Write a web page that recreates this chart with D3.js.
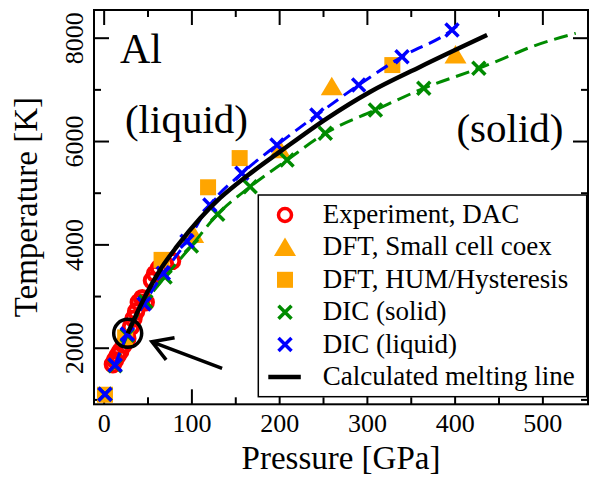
<!DOCTYPE html>
<html>
<head>
<meta charset="utf-8">
<script src="https://cdn.jsdelivr.net/npm/d3@7"></script>
<style>
body { margin: 0; background: #fff; }
svg { display: block; font-family: "Liberation Serif", "Times New Roman", serif; }
</style>
</head>
<body>
<div id="chart"></div>
<script>
// Values, each point is [pressure (GPa), temperature (K)]
var expDAC = [[10.5,1680],[13,1760],[16,1850],[19,1930],[23,2060],[27,2180],[31,2400],[34,2560],
	[37,2700],[40,2880],[44,2960],[48,2880],[55,3300],[58.5,3430],[63,3540],[70,3610],[78,3680]];
var dftCoex = [[102,4190],[201,5830],[260,7052],[401,7665]];
var dftHum = [[1.5,1090],[24.5,2200],[66,3700],[119,5105],[155,5670],[329,7470]];
var dicSolid = [[1.5,1100],[13,1650],[27,2240],[48,2890],[70,3370],[100,3970],[130,4585],
	[167,5116],[209,5633],[252.6,6150],[309.7,6601],[364.8,7021],[427.6,7408]];
var dicLiquid = [[1.5,1100],[13,1666],[27,2266],[46,2846],[68,3440],[95,4060],[121,4760],
	[157.5,5376],[197.5,5923],[243,6504],[290.6,7085],[340,7632],[397,8149]];

// fitted curves
var dicSolidFit = [[13,1650],[27,2240],[48,2890],[70,3370],[100,3970],[130,4585],[167,5116],
	[209,5633],[252.6,6150],[309.7,6601],[364.8,7021],[427.6,7408],[456,7600],[487,7820],[538,8085]];
var dicLiquidFit = [[13,1666],[27,2266],[46,2846],[68,3440],[95,4060],[121,4760],[157.5,5376],
	[197.5,5923],[243,6504],[290.6,7085],[340,7632],[397,8149],[403,8230]];
var meltLine = [[27.4,2279],[45.2,2924],[64.3,3504],[83.3,3955],[110,4505],[132.8,4898],
	[163.2,5323],[201,5794],[254.6,6440],[304,6955],[361,7439],[437,8052]];

// annotations, in data units
var highlight = [27.4, 2279];
var arrowTail = [135, 1600];
var arrowTip = [55, 2115];
var notes = [
	{ text: "Al", p: 18.6, t: 7516 },
	{ text: "(liquid)", p: 24.3, t: 6161 },
	{ text: "(solid)", p: 402, t: 5987 }
];

var xTicks = [0, 100, 200, 300, 400, 500];
var xMinor = [50, 150, 250, 350, 450];
var yTicks = [2000, 4000, 6000, 8000];
var yMinor = [1000, 3000, 5000, 7000];

var legendLabels = ["Experiment, DAC", "DFT, Small cell coex", "DFT, HUM/Hysteresis",
	"DIC (solid)", "DIC (liquid)", "Calculated melting line"];

var red = "#ff0000", orange = "#ffa500", green = "#008b00", blue = "#0000ff";

var width = 595, height = 477;

var x = d3.scaleLinear().domain([-11, 552]).range([94, 588]);
var y = d3.scaleLinear().domain([905, 8536]).range([404.3, 10]);

var svg = d3.select("#chart").append("svg")
	.attr("width", width)
	.attr("height", height);

var x0 = x.range()[0], x1 = x.range()[1];
var y0 = y.range()[0], y1 = y.range()[1];

// axes, ticks pointing inward on all four sides
function styleAxis(g) {
	g.select(".domain").remove();
	g.selectAll(".tick line").attr("stroke-width", 2);
}

svg.append("g").attr("transform", "translate(0," + y0 + ")")
	.call(d3.axisBottom(x).tickValues(xTicks).tickSize(-15).tickPadding(9).tickFormat(d3.format("d")))
	.call(styleAxis)
	.selectAll("text").attr("font-size", 26).attr("font-family", "Liberation Serif").attr("fill", "#000");
svg.append("g").attr("transform", "translate(0," + y0 + ")")
	.call(d3.axisBottom(x).tickValues(xMinor).tickSize(-7).tickFormat(""))
	.call(styleAxis);
svg.append("g").attr("transform", "translate(0," + y1 + ")")
	.call(d3.axisTop(x).tickValues(xTicks).tickSize(-15).tickFormat(""))
	.call(styleAxis);
svg.append("g").attr("transform", "translate(0," + y1 + ")")
	.call(d3.axisTop(x).tickValues(xMinor).tickSize(-7).tickFormat(""))
	.call(styleAxis);

var yAxisG = svg.append("g").attr("transform", "translate(" + x0 + ",0)")
	.call(d3.axisLeft(y).tickValues(yTicks).tickSize(-15).tickFormat(d3.format("d")))
	.call(styleAxis);
yAxisG.selectAll("text")
	.attr("x", null).attr("dy", null)
	.attr("transform", "translate(-11,0) rotate(-90)")
	.attr("text-anchor", "middle")
	.attr("font-size", 26).attr("font-family", "Liberation Serif").attr("fill", "#000");
svg.append("g").attr("transform", "translate(" + x0 + ",0)")
	.call(d3.axisLeft(y).tickValues(yMinor).tickSize(-7).tickFormat(""))
	.call(styleAxis);
svg.append("g").attr("transform", "translate(" + x1 + ",0)")
	.call(d3.axisRight(y).tickValues(yTicks).tickSize(-15).tickFormat(""))
	.call(styleAxis);
svg.append("g").attr("transform", "translate(" + x1 + ",0)")
	.call(d3.axisRight(y).tickValues(yMinor).tickSize(-7).tickFormat(""))
	.call(styleAxis);

svg.append("rect")
	.attr("x", x0).attr("y", y1)
	.attr("width", x1 - x0).attr("height", y0 - y1)
	.attr("fill", "none").attr("stroke", "#000").attr("stroke-width", 2);

// axis titles
svg.append("text")
	.attr("x", (x0 + x1) / 2).attr("y", 469)
	.attr("text-anchor", "middle").attr("font-size", 33)
	.text("Pressure [GPa]");
svg.append("text")
	.attr("transform", "translate(37," + ((y0 + y1) / 2) + ") rotate(-90)")
	.attr("text-anchor", "middle").attr("font-size", 33)
	.text("Temperature [K]");

// marker helpers
function drawCircle(g, cx, cy, r, sw) {
	g.append("circle").attr("cx", cx).attr("cy", cy).attr("r", r || 7.2)
		.attr("fill", "none").attr("stroke", red).attr("stroke-width", sw || 4);
}
function drawTriangle(g, cx, cy) {
	g.append("path")
		.attr("d", "M" + cx + "," + (cy - 10) + "L" + (cx + 11) + "," + (cy + 8.5) + "L" + (cx - 11) + "," + (cy + 8.5) + "Z")
		.attr("fill", orange);
}
function drawSquare(g, cx, cy) {
	g.append("rect").attr("x", cx - 8).attr("y", cy - 8).attr("width", 16).attr("height", 16)
		.attr("fill", orange);
}
function drawCross(g, cx, cy, color) {
	var s = 6.5;
	g.append("path")
		.attr("d", "M" + (cx - s) + "," + (cy - s) + "L" + (cx + s) + "," + (cy + s) +
			"M" + (cx - s) + "," + (cy + s) + "L" + (cx + s) + "," + (cy - s))
		.attr("stroke", color).attr("stroke-width", 3.5).attr("fill", "none");
}

var line = d3.line()
	.x(function(d) { return x(d[0]); })
	.y(function(d) { return y(d[1]); })
	.curve(d3.curveMonotoneX);

var plot = svg.append("g");

expDAC.forEach(function(d) { drawCircle(plot, x(d[0]), y(d[1])); });
dftCoex.forEach(function(d) { drawTriangle(plot, x(d[0]), y(d[1])); });
dftHum.forEach(function(d) { drawSquare(plot, x(d[0]), y(d[1])); });

plot.append("path").datum(dicSolidFit).attr("d", line)
	.attr("fill", "none").attr("stroke", green).attr("stroke-width", 3).attr("stroke-dasharray", "14,7");
dicSolid.forEach(function(d) { drawCross(plot, x(d[0]), y(d[1]), green); });

plot.append("path").datum(dicLiquidFit).attr("d", line)
	.attr("fill", "none").attr("stroke", blue).attr("stroke-width", 3).attr("stroke-dasharray", "13,7");
dicLiquid.forEach(function(d) { drawCross(plot, x(d[0]), y(d[1]), blue); });

plot.append("path").datum(meltLine).attr("d", line)
	.attr("fill", "none").attr("stroke", "#000").attr("stroke-width", 4.5);

// highlighted point and arrow
plot.append("circle")
	.attr("cx", x(highlight[0])).attr("cy", y(highlight[1])).attr("r", 14)
	.attr("fill", "none").attr("stroke", "#000").attr("stroke-width", 3.5);

var tx = x(arrowTip[0]), ty = y(arrowTip[1]);
var ang = Math.atan2(y(arrowTail[1]) - ty, x(arrowTail[0]) - tx);
var barb = 23, spread = 31 * Math.PI / 180;
plot.append("path")
	.attr("d", "M" + x(arrowTail[0]) + "," + y(arrowTail[1]) + "L" + tx + "," + ty +
		"M" + (tx + barb * Math.cos(ang - spread)) + "," + (ty + barb * Math.sin(ang - spread)) +
		"L" + tx + "," + ty +
		"L" + (tx + barb * Math.cos(ang + spread)) + "," + (ty + barb * Math.sin(ang + spread)))
	.attr("fill", "none").attr("stroke", "#000").attr("stroke-width", 3.5)
	.attr("stroke-linejoin", "miter");

notes.forEach(function(n) {
	svg.append("text")
		.attr("x", x(n.p)).attr("y", y(n.t))
		.attr("font-size", n.text == "Al" ? 42 : 41)
		.text(n.text);
});

// legend
var legend = svg.append("g").attr("transform", "translate(258.3,195)");
legend.append("rect")
	.attr("width", 328.4).attr("height", 201.7)
	.attr("fill", "#fff").attr("stroke", "#000").attr("stroke-width", 1.5);

legendLabels.forEach(function(label, i) {
	var ry = 20 + i * 32.4;
	var mx = 26.7;
	if (i == 0) drawCircle(legend, mx, ry, 6.5, 3.5);
	if (i == 1) drawTriangle(legend, mx, ry);
	if (i == 2) drawSquare(legend, mx, ry);
	if (i == 3) drawCross(legend, mx, ry, green);
	if (i == 4) drawCross(legend, mx, ry, blue);
	if (i == 5) {
		legend.append("line").attr("x1", 10).attr("x2", 42.5).attr("y1", ry).attr("y2", ry)
			.attr("stroke", "#000").attr("stroke-width", 4.5);
	}
	legend.append("text")
		.attr("x", 64.4).attr("y", ry + 8)
		.attr("font-size", 27)
		.text(label);
});
</script>
</body>
</html>
